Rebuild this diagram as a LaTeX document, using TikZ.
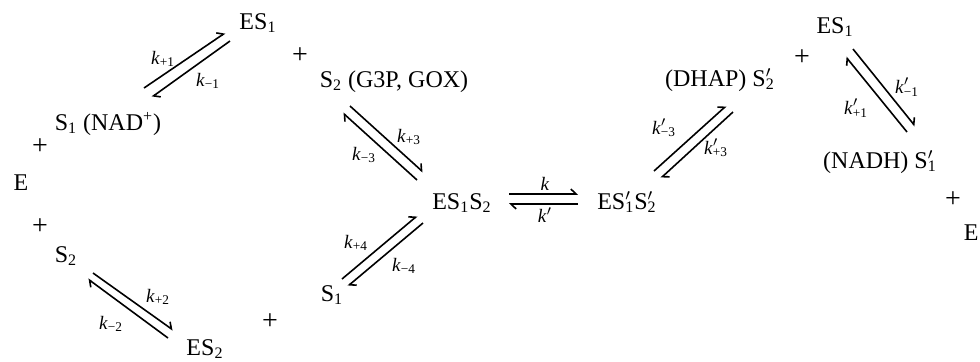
\documentclass[tikz,border=0pt]{standalone}
\usepackage{fontspec}
\setmainfont{Liberation Serif}
\usetikzlibrary{arrows.meta}
\newcommand{\lo}[1]{\textsubscript{#1}}
\newcommand{\pri}[1]{\rlap{$'$}\textsubscript{#1}}
\newcommand{\kk}[1]{\textit{k}\textsubscript{#1}}
\newcommand{\kp}[1]{\textit{k}\pri{#1}}

\begin{document}
\begin{tikzpicture}[x=0.5pt,y=-0.5pt,line width=0.8pt,
  spec/.style={inner sep=0pt,anchor=base,font=\fontsize{12}{14}\selectfont},
  plus/.style={inner sep=0pt,font=\fontsize{14}{16}\selectfont},
  rate/.style={inner sep=0pt,font=\fontsize{9.5}{11}\selectfont},
  harp/.style={-{Straight Barb[left,length=2.6pt,width=5pt]}}]
\useasboundingbox (0,0) rectangle (980,361);
% ---- species ----
\node[spec] (es1) at (258,29) {ES\lo{1}};
\node[plus] (pa) at (300,56) {+};
\node[spec] (s2g) at (394,87) {S\lo{2} (G3P, GOX)};
\node[spec] (s1n) at (108,130) {S\lo{1} (NAD\textsuperscript{+})};
\node[plus] (pb) at (40,147) {+};
\node[spec] (e) at (21,190) {E};
\node[plus] (pc) at (40,227) {+};
\node[spec] (s2) at (66,262) {S\lo{2}};
\node[plus] (pd) at (270,322) {+};
\node[spec] (es2) at (205,355) {ES\lo{2}};
\node[spec] (es1s2) at (462,209) {ES\lo{1}S\lo{2}};
\node[spec] (s1) at (332,301) {S\lo{1}};
\node[spec] (esp) at (627,209) {ES\pri{1}S\pri{2}};
\node[spec] (dhap) at (720,86) {(DHAP) S\pri{2}};
\node[plus] (pe) at (802,58) {+};
\node[spec] (es1r) at (835,33) {ES\lo{1}};
\node[spec] (nadh) at (880,168) {(NADH) S\pri{1}};
\node[plus] (pf) at (953,200) {+};
\node[spec,anchor=base west] (er) at (963,240) {E};
% ---- ends of the half-arrows ----
\foreach \n/\x/\y in {a1/144/88, b1/225/33, c1/230/41, d1/152/97,
  a2/93/273, b2/173/330, c2/168/338, d2/88/279,
  a3/350/106, b3/423/172, c3/417/180, d3/343/113,
  a4/342/279, b4/417/216, c4/423/223, d4/348/286,
  a5/509/194, b5/578/194, c5/578/204, d5/509/204,
  a6/654/171, b6/726/106, c6/733/112, d6/661/178,
  a7/853/49, b7/915/126, c7/907/132, d7/846/57}
  \coordinate (\n) at (\x,\y);
\foreach \i in {1,...,7}{
  \draw[harp] (a\i) -- (b\i);
  \draw[harp] (c\i) -- (d\i);
}
% ---- rate constants ----
\node[rate] (kf1) at (163,59) {\kk{+1}};
\node[rate] (kb1) at (208,81) {\kk{−1}};
\node[rate] (kf2) at (158,297) {\kk{+2}};
\node[rate] (kb2) at (111,324) {\kk{−2}};
\node[rate] (kf3) at (409,137) {\kk{+3}};
\node[rate] (kb3) at (364,155) {\kk{−3}};
\node[rate] (kf4) at (356,243) {\kk{+4}};
\node[rate] (kb4) at (404,266) {\kk{−4}};
\node[rate] (kf) at (545,184) {\textit{k}};
\node[rate] (kb) at (545,215) {\textit{k}$'$};
\node[rate] (kb3p) at (664,128) {\kp{−3}};
\node[rate] (kf3p) at (716,148) {\kp{+3}};
\node[rate] (kb1p) at (907,87) {\kp{−1}};
\node[rate] (kf1p) at (856,108) {\kp{+1}};
\end{tikzpicture}
\end{document}
